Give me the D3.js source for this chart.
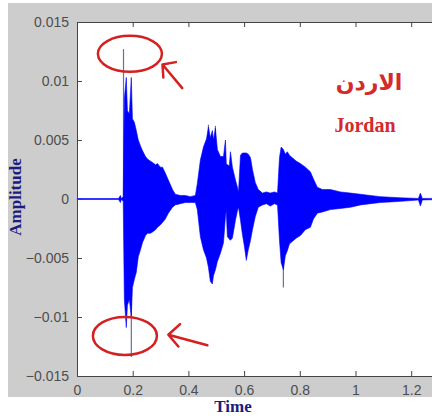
<!DOCTYPE html>
<html>
<head>
<meta charset="utf-8">
<script src="https://cdn.jsdelivr.net/npm/d3@7"></script>
<style>
  html, body { margin: 0; padding: 0; background: #fff; }
  svg { display: block; }
</style>
</head>
<body>
<div id="chart"></div>
<script>
// envelope of the speech signal
const time = [0, 0.149, 0.156, 0.159, 0.166, 0.170, 0.177, 0.181, 0.188, 0.195, 0.199, 0.206, 0.213, 0.220, 0.228,
  0.235, 0.246, 0.253, 0.264, 0.271, 0.282, 0.289, 0.299, 0.307, 0.317, 0.328, 0.343, 0.353, 0.371, 0.389,
  0.407, 0.425, 0.432, 0.443, 0.454, 0.465, 0.472, 0.479, 0.486, 0.490, 0.497, 0.504, 0.515, 0.526, 0.533,
  0.536, 0.540, 0.547, 0.551, 0.558, 0.569, 0.576, 0.580, 0.587, 0.594, 0.601, 0.608, 0.615, 0.623, 0.630,
  0.640, 0.651, 0.666, 0.680, 0.694, 0.709, 0.720, 0.727, 0.733, 0.741, 0.748, 0.755, 0.763, 0.773, 0.788,
  0.802, 0.820, 0.838, 0.849, 0.863, 0.881, 0.910, 0.946, 0.982, 1.018, 1.053, 1.089, 1.125, 1.161, 1.226,
  1.233, 1.240, 1.300]
const upper = [0.00004, 0.00004, 0.0003, 0.00004, 0.0002, 0.0085, 0.0103, 0.0075, 0.0072, 0.0103, 0.0068, 0.0065, 0.0058, 0.0050, 0.0045,
  0.0041, 0.0036, 0.0034, 0.0032, 0.0031, 0.0029, 0.0030, 0.0027, 0.0027, 0.0022, 0.0016, 0.0008, 0.0004, 0.0003, 0.0003,
  0.0002, 0.0003, 0.0013, 0.0033, 0.0044, 0.0051, 0.0061, 0.0052, 0.0058, 0.0050, 0.0060, 0.0042, 0.0036, 0.0036, 0.0050,
  0.0030, 0.0029, 0.0028, 0.0040, 0.0027, 0.0016, 0.0010, 0.0006, 0.0037, 0.0039, 0.0039, 0.0039, 0.0038, 0.0035, 0.0025,
  0.0014, 0.0008, 0.0005, 0.0006, 0.0005, 0.0006, 0.0005, 0.0035, 0.0044, 0.0042, 0.0038, 0.0040, 0.0037, 0.0035, 0.0032,
  0.0030, 0.0027, 0.0023, 0.0017, 0.0010, 0.0008, 0.0008, 0.0006, 0.0005, 0.0004, 0.0003, 0.0002, 0.00015, 0.0001, 0.00005,
  0.0005, 0.00005, 0.00005]
const lower = [-0.00004, -0.00004, -0.0003, -0.00004, -0.0002, -0.0085, -0.0109, -0.0090, -0.0085, -0.0100, -0.0075, -0.0068, -0.0062, -0.0049, -0.0043,
  -0.0037, -0.0031, -0.0029, -0.0029, -0.0028, -0.0026, -0.0024, -0.0022, -0.0020, -0.0017, -0.0012, -0.0007, -0.0005, -0.0004, -0.0003,
  -0.0003, -0.0003, -0.0009, -0.0032, -0.0043, -0.0050, -0.0058, -0.0070, -0.0072, -0.0065, -0.0060, -0.0053, -0.0046, -0.0037, -0.0015,
  -0.0010, -0.0032, -0.0034, -0.0035, -0.0033, -0.0018, -0.0010, -0.0007, -0.0018, -0.0030, -0.0040, -0.0052, -0.0043, -0.0035, -0.0026,
  -0.0015, -0.0007, -0.0005, -0.0004, -0.0006, -0.0004, -0.0005, -0.0035, -0.0054, -0.0060, -0.0048, -0.0044, -0.0038, -0.0036, -0.0033,
  -0.0031, -0.0026, -0.0024, -0.0017, -0.0012, -0.0011, -0.0009, -0.0008, -0.0007, -0.0005, -0.0004, -0.0003, -0.00025, -0.0002, -0.00008,
  -0.0006, -0.00008, -0.00005]
// single samples that stick out of the envelope
const spikeTime = [0.167, 0.195, 0.741, 0.472, 0.497]
const spikeValue = [0.0127, -0.0134, -0.0075, 0.0063, 0.0062]

const xTicks = [0, 0.2, 0.4, 0.6, 0.8, 1, 1.2]
const yTicks = [-0.015, -0.01, -0.005, 0, 0.005, 0.01, 0.015]

const width = 432
const height = 416
const plot = { left: 77, top: 22, bottom: 376 }

const svg = d3.select('#chart')
  .append('svg')
  .attr('width', width)
  .attr('height', height)

// matlab figure background
svg.append('rect')
  .attr('x', 8).attr('y', 3)
  .attr('width', width - 8).attr('height', 394)
  .attr('fill', '#cdcdcd')

const x = d3.scaleLinear().domain([0, 1.3]).range([plot.left, plot.left + 1.3 * 278.5])
const y = d3.scaleLinear().domain([-0.015, 0.015]).range([plot.bottom, plot.top])

svg.append('rect')
  .attr('x', x(0)).attr('y', y(0.015))
  .attr('width', x(1.3) - x(0)).attr('height', y(-0.015) - y(0.015))
  .attr('fill', '#fff')

const g = svg.append('g')
const data = time.map((t, i) => ({ t: t, hi: upper[i], lo: lower[i] }))

// spikes go under the envelope so only the part sticking out shows
g.selectAll('.spike')
  .data(spikeTime)
  .enter()
  .append('line')
  .attr('class', 'spike')
  .attr('x1', d => x(d)).attr('x2', d => x(d))
  .attr('y1', y(0))
  .attr('y2', (d, i) => y(spikeValue[i]))
  .attr('stroke', '#6a6e9c')
  .attr('stroke-width', 1.2)

const area = d3.area()
  .x(d => x(d.t))
  .y0(d => y(d.lo))
  .y1(d => y(d.hi))

g.append('path')
  .datum(data)
  .attr('d', area)
  .attr('fill', '#0000ff')
  .attr('stroke', '#0000ff')
  .attr('stroke-width', 0.6)

// axes, matlab style: ticks inside, box round the plot
const tickFont = 'Liberation Sans, Arial, sans-serif'
const xAxis = d3.axisBottom(x).tickValues(xTicks).tickSize(-5).tickPadding(9)
  .tickFormat(d3.format('~g'))
const yAxis = d3.axisLeft(y).tickValues(yTicks).tickSize(-5).tickPadding(8)
  .tickFormat(d => d === 0 ? '0' : d3.format('~g')(d))

const gx = svg.append('g').attr('transform', `translate(0,${plot.bottom})`).call(xAxis)
const gy = svg.append('g').attr('transform', `translate(${plot.left},0)`).call(yAxis)
const gxTop = svg.append('g').attr('transform', `translate(0,${plot.top})`)
  .call(d3.axisTop(x).tickValues(xTicks).tickSize(-5).tickFormat(''))

;[gx, gy, gxTop].forEach(a => {
  a.select('.domain').attr('stroke', '#444').attr('stroke-width', 1)
  a.selectAll('.tick line').attr('stroke', '#444')
  a.selectAll('.tick text')
    .attr('fill', '#4d4d4d')
    .style('font-family', tickFont)
    .style('font-size', '14px')
})

// axis titles
svg.append('text')
  .attr('x', 233).attr('y', 412)
  .attr('text-anchor', 'middle')
  .style('font-family', 'Liberation Serif, Times New Roman, serif')
  .style('font-weight', 'bold')
  .style('font-size', '17px')
  .attr('fill', '#1c1c80')
  .text('Time')

svg.append('text')
  .attr('transform', 'translate(21,197) rotate(-90)')
  .attr('text-anchor', 'middle')
  .style('font-family', 'Liberation Serif, Times New Roman, serif')
  .style('font-weight', 'bold')
  .style('font-size', '17px')
  .attr('fill', '#1c1c80')
  .text('Amplitude')

// labels
svg.append('text')
  .attr('x', 369).attr('y', 90)
  .attr('text-anchor', 'middle')
  .style('font-family', 'DejaVu Sans, sans-serif')
  .style('font-weight', 'bold')
  .style('font-size', '22px')
  .attr('fill', '#d42a2a')
  .text('الاردن')

svg.append('text')
  .attr('x', 365).attr('y', 132)
  .attr('text-anchor', 'middle')
  .style('font-family', 'Liberation Serif, Times New Roman, serif')
  .style('font-weight', 'bold')
  .style('font-size', '20px')
  .attr('fill', '#d42a2a')
  .text('Jordan')

// red hand-drawn circles and arrows round the extreme peaks
const red = '#d42020'
const marks = svg.append('g')
  .attr('fill', 'none')
  .attr('stroke', red)
  .attr('stroke-width', 2.5)
  .attr('stroke-linecap', 'round')
  .attr('stroke-linejoin', 'round')

marks.append('ellipse')
  .attr('cx', x(0.19)).attr('cy', y(0.0123))
  .attr('rx', 32).attr('ry', 18)
marks.append('path')
  .attr('d', `M${x(0.378)},${y(0.0094)} L${x(0.307)},${y(0.0114)} M${x(0.355)},${y(0.0116)} L${x(0.307)},${y(0.0114)} L${x(0.31)},${y(0.0103)}`)

marks.append('ellipse')
  .attr('cx', x(0.172)).attr('cy', y(-0.0116))
  .attr('rx', 32).attr('ry', 19)
marks.append('path')
  .attr('d', `M${x(0.468)},${y(-0.0124)} L${x(0.328)},${y(-0.0115)} M${x(0.37)},${y(-0.0106)} L${x(0.328)},${y(-0.0115)} L${x(0.364)},${y(-0.0125)}`)
</script>
</body>
</html>
